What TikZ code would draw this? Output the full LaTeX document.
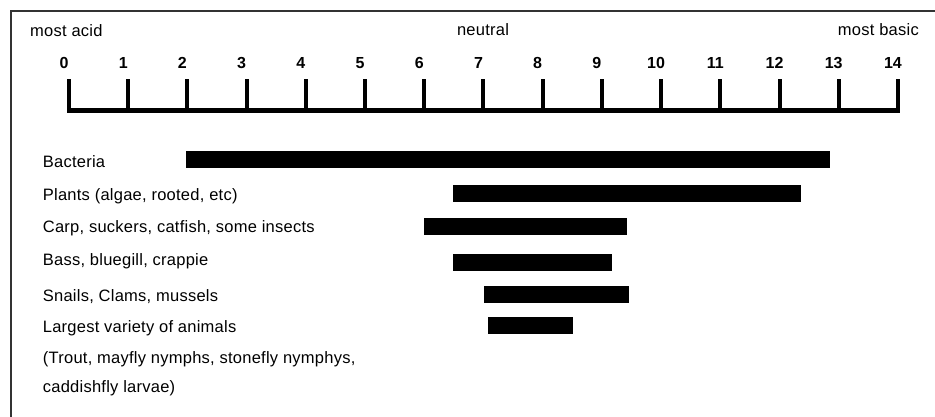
\documentclass[tikz,border=0pt]{standalone}
\usepackage{fontspec}
\setmainfont{Liberation Sans}[LetterSpace=1.5]
\newfontfamily\numfont{Liberation Sans}
\begin{document}
\begin{tikzpicture}[x=1pt,y=-1pt,
  lbl/.style={anchor=base west,inner sep=0pt,font=\fontsize{16.5}{19}\selectfont},
  num/.style={anchor=base,inner sep=0pt,font=\numfont\bfseries\fontsize{16}{19}\selectfont},
  tick/.style={line width=4pt},
  bar/.style={fill=black}]
\useasboundingbox (0,0) rectangle (935,416);
\fill[white] (0,0) rectangle (935,416);
% frame (left and top edges visible)
\draw[line width=2pt,black!80] (11,417) -- (11,11) -- (936,11);
% header texts
\node[lbl] (acid) at (30,36) {most acid};
\node[lbl,anchor=base] (neutral) at (483,35) {neutral};
\node[lbl,anchor=base east] (basic) at (919,35) {most basic};
% scale
\draw[line width=5pt] (67,110) -- (900,110);
\foreach \i in {0,...,14} {
  \coordinate (t\i) at ({69+59.21*\i},79);
  \draw[tick] (t\i) -- ++(0,31);
  \node[num] (n\i) at ({64+59.21*\i},68.3) {\i};
}
% labels
\node[lbl] (bact) at (42.7,167.7) {Bacteria};
\node[lbl] (plants) at (42.7,200.5) {Plants (algae, rooted, etc)};
\node[lbl] (carp) at (42.7,232.5) {Carp, suckers, catfish, some insects};
\node[lbl] (bass) at (42.7,265) {Bass, bluegill, crappie};
\node[lbl] (snails) at (42.7,301) {Snails, Clams, mussels};
\node[lbl] (largest) at (42.7,332.5) {Largest variety of animals};
\node[lbl] (trout) at (42.7,363) {(Trout, mayfly nymphs, stonefly nymphys,};
\node[lbl] (cadd) at (42.7,392) {caddishfly larvae)};
% bars
\fill[bar] (186,151) rectangle (830,167.7);
\fill[bar] (452.7,185) rectangle (800.7,201.7);
\fill[bar] (424.3,218) rectangle (626.7,235);
\fill[bar] (452.7,254) rectangle (612,271);
\fill[bar] (484,286) rectangle (628.7,302.7);
\fill[bar] (488,316.7) rectangle (573,333.7);
\end{tikzpicture}
\end{document}
